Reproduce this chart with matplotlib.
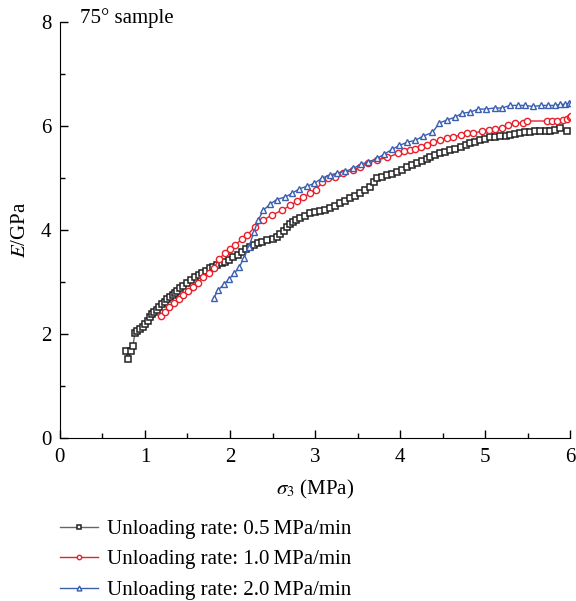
import numpy as np
import matplotlib
matplotlib.use('Agg')
import matplotlib.pyplot as plt

plt.rcParams['font.family'] = ['Liberation Serif', 'DejaVu Serif']
plt.rcParams['mathtext.fontset'] = 'stix'

# Unloading rate 0.5 MPa/min
x_05 = [0.78, 0.80, 0.84, 0.86, 0.88, 0.91, 0.94, 0.98, 1.00, 1.04, 1.06, 1.08, 1.11, 1.14,
        1.16, 1.20, 1.24, 1.26, 1.29, 1.33, 1.35, 1.38, 1.41, 1.45, 1.49, 1.54, 1.59, 1.63,
        1.67, 1.72, 1.76, 1.80, 1.85, 1.90, 1.94, 1.99, 2.04, 2.09, 2.14, 2.19, 2.24, 2.28,
        2.33, 2.38, 2.44, 2.50, 2.55, 2.59, 2.63, 2.67, 2.71, 2.74, 2.78, 2.82, 2.88, 2.94,
        3.00, 3.06, 3.12, 3.18, 3.24, 3.29, 3.35, 3.41, 3.47, 3.53, 3.59, 3.65, 3.69, 3.73,
        3.79, 3.85, 3.90, 3.96, 4.02, 4.08, 4.14, 4.20, 4.26, 4.32, 4.35, 4.41, 4.47, 4.53,
        4.59, 4.65, 4.71, 4.77, 4.82, 4.88, 4.94, 5.00, 5.06, 5.12, 5.18, 5.24, 5.29, 5.35,
        5.41, 5.47, 5.53, 5.59, 5.65, 5.71, 5.76, 5.82, 5.88, 5.96]
y_05 = [1.67, 1.52, 1.67, 1.77, 2.02, 2.06, 2.10, 2.13, 2.19, 2.25, 2.33, 2.38, 2.42, 2.46,
        2.52, 2.58, 2.62, 2.67, 2.71, 2.75, 2.79, 2.83, 2.88, 2.93, 2.98, 3.04, 3.10, 3.13,
        3.17, 3.22, 3.27, 3.30, 3.33, 3.36, 3.38, 3.43, 3.48, 3.53, 3.58, 3.63, 3.67, 3.71,
        3.75, 3.78, 3.81, 3.84, 3.87, 3.92, 3.99, 4.06, 4.12, 4.15, 4.19, 4.23, 4.28, 4.33,
        4.35, 4.37, 4.39, 4.42, 4.47, 4.52, 4.57, 4.62, 4.66, 4.71, 4.77, 4.83, 4.92, 5.00,
        5.03, 5.06, 5.09, 5.12, 5.16, 5.21, 5.25, 5.29, 5.33, 5.37, 5.40, 5.44, 5.48, 5.51,
        5.54, 5.57, 5.60, 5.63, 5.67, 5.70, 5.73, 5.76, 5.79, 5.80, 5.81, 5.82, 5.83, 5.85,
        5.87, 5.88, 5.89, 5.90, 5.90, 5.90, 5.90, 5.92, 5.96, 5.90]

# Unloading rate 1.0 MPa/min
x_10 = [1.19, 1.24, 1.28, 1.34, 1.40, 1.45, 1.51, 1.56, 1.62, 1.68, 1.75, 1.81, 1.87, 1.94,
        2.00, 2.06, 2.14, 2.20, 2.29, 2.39, 2.49, 2.61, 2.71, 2.79, 2.86, 2.94, 3.01, 3.08,
        3.15, 3.24, 3.33, 3.45, 3.53, 3.62, 3.73, 3.85, 3.98, 4.05, 4.12, 4.18, 4.24, 4.32,
        4.39, 4.47, 4.55, 4.62, 4.71, 4.79, 4.86, 4.96, 5.04, 5.12, 5.20, 5.27, 5.35, 5.44,
        5.49, 5.73, 5.79, 5.85, 5.91, 5.96, 6.00, 6.01]
y_10 = [2.35, 2.42, 2.52, 2.60, 2.67, 2.75, 2.83, 2.90, 2.98, 3.10, 3.17, 3.27, 3.44, 3.56,
        3.63, 3.71, 3.83, 3.90, 4.06, 4.19, 4.29, 4.38, 4.48, 4.56, 4.63, 4.71, 4.77, 4.92,
        5.00, 5.02, 5.10, 5.15, 5.21, 5.29, 5.35, 5.40, 5.48, 5.52, 5.55, 5.57, 5.60, 5.63,
        5.69, 5.73, 5.77, 5.79, 5.83, 5.87, 5.87, 5.90, 5.92, 5.94, 5.96, 6.02, 6.06, 6.06,
        6.10, 6.10, 6.10, 6.10, 6.12, 6.13, 6.17, 6.19]

# Unloading rate 2.0 MPa/min
x_20 = [1.81, 1.86, 1.93, 1.99, 2.05, 2.11, 2.16, 2.22, 2.28, 2.33, 2.39, 2.47, 2.55, 2.65,
        2.73, 2.81, 2.91, 2.99, 3.08, 3.18, 3.26, 3.35, 3.45, 3.54, 3.62, 3.73, 3.81, 3.91,
        3.99, 4.08, 4.18, 4.27, 4.38, 4.46, 4.55, 4.64, 4.73, 4.82, 4.92, 5.01, 5.11, 5.20,
        5.29, 5.39, 5.47, 5.56, 5.66, 5.74, 5.82, 5.88, 5.94, 5.98, 6.01]
y_20 = [2.70, 2.85, 2.96, 3.06, 3.17, 3.29, 3.46, 3.67, 3.96, 4.19, 4.38, 4.50, 4.59, 4.64,
        4.71, 4.79, 4.85, 4.90, 5.00, 5.06, 5.10, 5.13, 5.19, 5.27, 5.31, 5.38, 5.46, 5.56,
        5.63, 5.69, 5.73, 5.81, 5.88, 6.06, 6.12, 6.17, 6.25, 6.27, 6.33, 6.33, 6.35, 6.35,
        6.40, 6.40, 6.40, 6.38, 6.40, 6.40, 6.40, 6.42, 6.42, 6.44, 6.44]

labels = ['Unloading rate: 0.5\u2009MPa/min',
          'Unloading rate: 1.0\u2009MPa/min',
          'Unloading rate: 2.0\u2009MPa/min']

fig = plt.figure(figsize=(5.76, 6.01), dpi=100)
ax = fig.add_axes([0.104, 0.271, 0.886, 0.692])

ax.plot(x_05, y_05, '-', color='#666666', lw=1, marker='s', ms=4,
        mfc='white', mec='#222222', mew=1.1, label=labels[0])
ax.plot(x_10, y_10, '-', color='#e8202a', lw=1, marker='o', ms=4.5,
        mfc='white', mec='#e8202a', mew=1, label=labels[1])
ax.plot(x_20, y_20, '-', color='#3a5fb0', lw=1, marker='^', ms=5,
        mfc='white', mec='#3a5fb0', mew=1, label=labels[2])

ax.set_xlim(0, 6)
ax.set_ylim(0, 8)
ax.set_xticks(np.arange(0, 7, 1))
ax.set_xticks(np.arange(0.5, 6, 1), minor=True)
ax.set_yticks(np.arange(0, 9, 2))
ax.set_yticks(np.arange(1, 8, 2), minor=True)
ax.spines['top'].set_visible(False)
ax.spines['right'].set_visible(False)
ax.tick_params(which='both', direction='in', labelsize=15, width=1)
ax.tick_params(axis='x', pad=7)
ax.tick_params(axis='y', pad=6)
ax.tick_params(which='major', length=6)
ax.tick_params(which='minor', length=3.5)
ax.set_xlabel(r'$\sigma_3$ (MPa)', fontsize=15, labelpad=8)
ax.set_ylabel(r'$E$/GPa', fontsize=15, labelpad=8)

fig.text(80 / 576, 1 - 23 / 601, '75° sample', fontsize=15, va='baseline')

handles, labs = ax.get_legend_handles_labels()
fig.legend(handles, labs, loc='upper left', bbox_to_anchor=(0.0724, 0.167),
           frameon=False, fontsize=15, handlelength=1.8, handletextpad=0.45,
           labelspacing=0.52, markerscale=0.7)

plt.savefig('out.png', dpi=100)
